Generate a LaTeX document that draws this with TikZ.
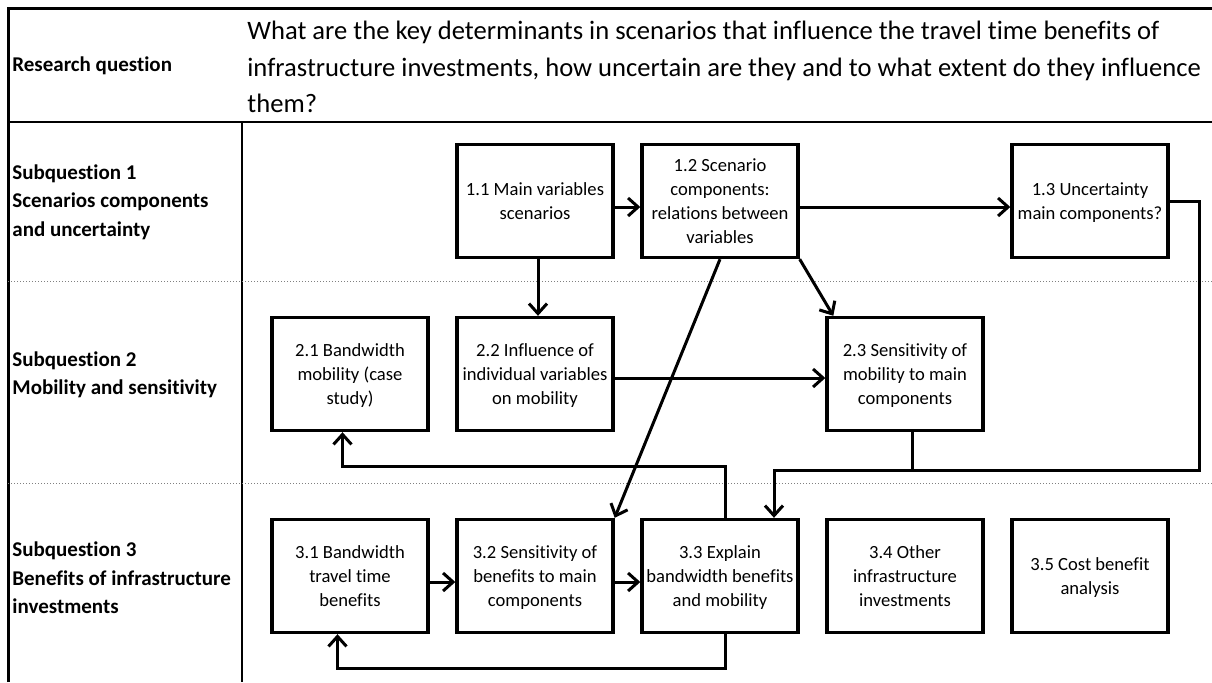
\documentclass[tikz,border=0pt]{standalone}
\usepackage{fontspec}
\setmainfont{Carlito}[Ligatures=NoCommon]
\usetikzlibrary{arrows.meta}

\tikzset{
  sub/.style={draw, line width=1.7pt, minimum width=78pt, minimum height=56.5pt,
    align=center, inner sep=1pt, text depth=0pt, font=\fontsize{9.3}{12}\selectfont},
  rowhead/.style={anchor=west, align=left, inner sep=0pt,
    font=\bfseries\fontsize{10.5}{14.25}\selectfont},
  flow/.style={line width=1.5pt, -{Straight Barb[length=5pt,width=9pt,line width=1.5pt]}},
  link/.style={line width=1.5pt},
  sep/.style={gray, densely dotted, line width=0.5pt}
}

\begin{document}
\begin{tikzpicture}[x=0.5pt, y=-0.5pt, node distance=92.5pt]
\useasboundingbox (0,0) rectangle (1212,682);
% table
\draw[line width=1.5pt] (8,682) -- (8,8) -- (1212,8);
\draw[line width=1pt] (8,122) -- (1212,122);
\draw[line width=1pt] (242,122) -- (242,682);
\draw[sep] (8,281) -- (1212,281);
\draw[sep] (8,483) -- (1212,483);

% row headings
\node[rowhead] (rq) at (12,66) {Research question};
\node[anchor=west, align=left, inner sep=0pt, font=\fontsize{13.3}{18.25}\selectfont] (q) at (247,67)
  {What are the key determinants in scenarios that influence the travel time benefits of\\
   infrastructure investments, how uncertain are they and to what extent do they influence\\
   them?};
\node[rowhead] (sq1) at (12,202) {Subquestion 1\\Scenarios components\\and uncertainty};
\node[rowhead] (sq2) at (12,375) {Subquestion 2\\Mobility and sensitivity};
\node[rowhead] (sq3) at (12,578) {Subquestion 3\\Benefits of infrastructure\\investments};

% boxes
\node[sub] (11) at (535,201) {1.1 Main variables\\scenarios};
\node[sub] (12) [right of=11] {1.2 Scenario\\components:\\relations between\\variables};
\node[sub] (13) [right of=12, node distance=185pt] {1.3 Uncertainty\\main components?};
\node[sub] (22) [below of=11, node distance=86.5pt] {2.2 Influence of\\individual variables\\on mobility};
\node[sub] (21) [left of=22] {2.1 Bandwidth\\mobility (case\\study)};
\node[sub] (23) [right of=22, node distance=185pt] {2.3 Sensitivity of\\mobility to main\\components};
\node[sub] (32) [below of=22, node distance=101pt] {3.2 Sensitivity of\\benefits to main\\components};
\node[sub] (31) [left of=32] {3.1 Bandwidth\\travel time\\benefits};
\node[sub] (33) [right of=32] {3.3 Explain\\bandwidth benefits\\and mobility};
\node[sub] (34) [right of=33] {3.4 Other\\infrastructure\\investments};
\node[sub] (35) [right of=34] {3.5 Cost benefit\\analysis};

% helper points for the loops
\coordinate (r13) at (1199,470);
\coordinate (mid) at (0,466);
\coordinate (low) at (0,668);

% arrows
\draw[flow] ([yshift=-3pt]11.east) -- ([yshift=-3pt]12.west);
\draw[flow] ([yshift=-3pt]12.east) -- ([yshift=-3pt]13.west);
\draw[flow] ([xshift=1.5pt]11.south) -- ([xshift=1.5pt]22.north);
\draw[flow] (12.south east) -- ([xshift=4pt]23.north west);
\draw[flow] (12.south) -- (32.north east);
\draw[flow] ([yshift=-2pt]22.east) -- ([yshift=-2pt]23.west);
\draw[flow] ([yshift=-3pt]31.east) -- ([yshift=-3pt]32.west);
\draw[flow] ([yshift=-3pt]32.east) -- ([yshift=-3pt]33.west);
\draw[flow] (13.east) -| (r13) -| ([xshift=27pt]33.north);
\draw[link] ([xshift=3.5pt]23.south) -- ([xshift=3.5pt]23.south |- r13);
\draw[flow] ([xshift=2.75pt]33.north) -- ([xshift=2.75pt]33.north |- mid) -| ([xshift=-3.75pt]21.south);
\draw[flow] ([xshift=2.75pt]33.south) -- ([xshift=2.75pt]33.south |- low) -| ([xshift=-6.25pt]31.south);
\end{tikzpicture}
\end{document}
